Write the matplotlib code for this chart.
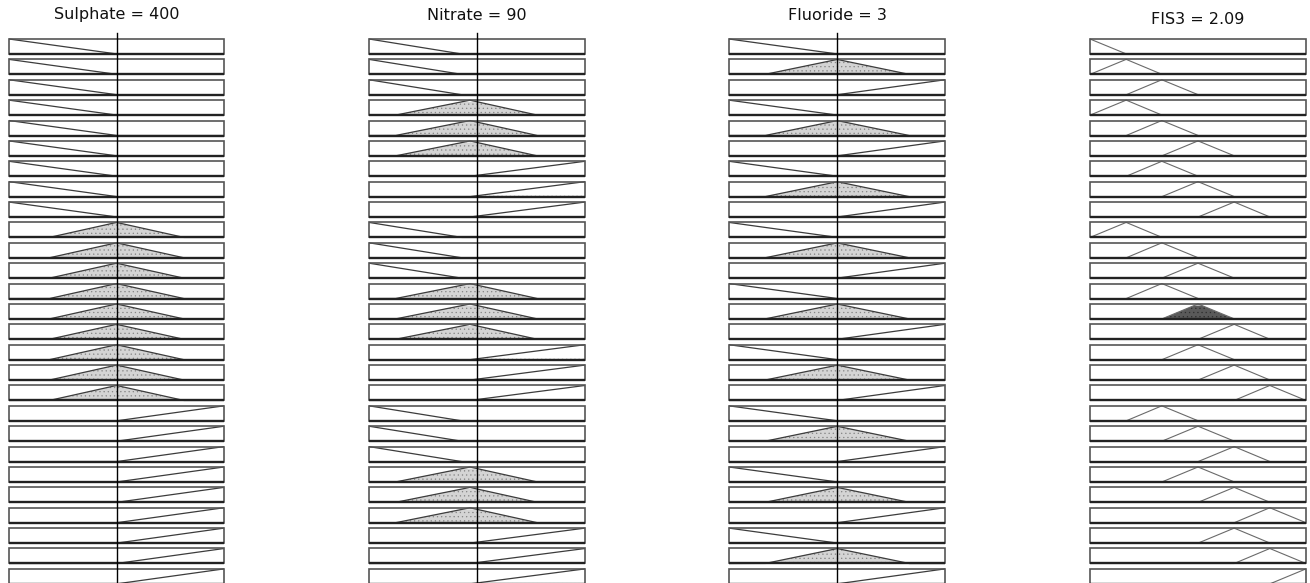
import numpy as np
import matplotlib.pyplot as plt
from matplotlib.patches import Rectangle

plt.rcParams["hatch.linewidth"] = 0.4
plt.rcParams["font.family"] = ["DejaVu Sans"]

# crisp inputs and the defuzzified output
sulphate_value = 400
nitrate_value = 90
fluoride_value = 3
fis3_value = 2.09

sulphate_range = [0, 800]
nitrate_range = [0, 180]
fluoride_range = [0, 6]
fis3_range = [0, 4]

# triangular membership functions [a, b, c]
sulphate_mfs = [[-400, 0, 400], [150, 400, 650], [400, 800, 1200]]
nitrate_mfs = [[-77, 0, 77], [22, 84, 140], [84, 180, 276]]
fluoride_mfs = [[-3, 0, 3], [1, 3, 5], [3, 6, 9]]
fis3_mfs = [[-0.67, 0, 0.67], [0, 0.67, 1.33], [0.67, 1.33, 2.0],
            [1.33, 2.0, 2.67], [2.0, 2.67, 3.33], [2.67, 3.33, 4.0],
            [3.33, 4.0, 4.67]]

# rule base (1-based MF index per rule)
rule_sulphate = [1, 1, 1, 1, 1, 1, 1, 1, 1,
                 2, 2, 2, 2, 2, 2, 2, 2, 2,
                 3, 3, 3, 3, 3, 3, 3, 3, 3]
rule_nitrate = [1, 1, 1, 2, 2, 2, 3, 3, 3,
                1, 1, 1, 2, 2, 2, 3, 3, 3,
                1, 1, 1, 2, 2, 2, 3, 3, 3]
rule_fluoride = [1, 2, 3, 1, 2, 3, 1, 2, 3,
                 1, 2, 3, 1, 2, 3, 1, 2, 3,
                 1, 2, 3, 1, 2, 3, 1, 2, 3]
rule_fis3 = [1, 2, 3, 2, 3, 4, 3, 4, 5,
             2, 3, 4, 3, 4, 5, 4, 5, 6,
             3, 4, 5, 4, 5, 6, 5, 6, 7]


def trimf(x, p):
    a, b, c = p
    x = np.asarray(x, dtype=float)
    up = (x - a) / (b - a)
    down = (c - x) / (c - b)
    return np.clip(np.minimum(up, down), 0, 1)


W, H = 1310, 583
fig = plt.figure(figsize=(W / 100, H / 100), dpi=100)

n_rules = len(rule_fis3)
pitch = 20.38       # px between rows
box_h = 15 / pitch  # box height in row units
top_px = 39
y_top = -0.4

# pixel extents of each column
col_x = [(9, 224), (369, 585), (729, 945), (1090, 1306)]


def make_axes(x0, x1, xlim):
    top = top_px + y_top * pitch
    height = (n_rules - y_top) * pitch
    ax = fig.add_axes([x0 / W, (H - top - height) / H, (x1 - x0) / W, height / H])
    ax.set_xlim(xlim)
    ax.set_ylim(n_rules, y_top)
    ax.axis("off")
    return ax


def draw_box(ax, r, xlim):
    ax.add_patch(Rectangle((xlim[0], r), xlim[1] - xlim[0], box_h, fill=False,
                           edgecolor="#555555", lw=1.2, clip_on=False, zorder=4))
    ax.plot(xlim, [r + box_h, r + box_h], color="#222222", lw=1.7,
            clip_on=False, zorder=5, solid_capstyle="butt")


inputs = [
    ("Sulphate", sulphate_value, sulphate_range, sulphate_mfs, rule_sulphate),
    ("Nitrate", nitrate_value, nitrate_range, nitrate_mfs, rule_nitrate),
    ("Fluoride", fluoride_value, fluoride_range, fluoride_mfs, rule_fluoride),
]

# firing strength of every rule (AND = min)
fire = np.ones(n_rules)
for name, val, rng, mfs, rule in inputs:
    for r in range(n_rules):
        fire[r] = min(fire[r], float(trimf(val, mfs[rule[r] - 1])))

for (name, val, rng, mfs, rule), (x0, x1) in zip(inputs, col_x[:3]):
    ax = make_axes(x0, x1, rng)
    xs = np.linspace(rng[0], rng[1], 801)
    for r in range(n_rules):
        p = mfs[rule[r] - 1]
        mu = trimf(xs, p)
        deg = float(trimf(val, p))
        if deg > 0:
            clipped = np.minimum(mu, deg)
            ax.fill_between(xs, r + box_h, r + box_h * (1 - clipped),
                            where=clipped > 0, facecolor="#d4d4d4", hatch="....",
                            edgecolor="#858585", lw=0, zorder=2)
        ax.plot(xs, r + box_h * (1 - mu), color="#3c3c3c", lw=0.9, zorder=3)
        draw_box(ax, r, rng)
    ax.plot([val, val], [-0.3, n_rules], color="black", lw=1.0,
            clip_on=False, zorder=6)
    fig.text(((x0 + x1) / 2) / W, 1 - 15 / H, f"{name} = {val:g}",
             ha="center", va="center", fontsize=11.5, color="#111111")

# output column
x0, x1 = col_x[3]
ax = make_axes(x0, x1, fis3_range)
xs = np.linspace(fis3_range[0], fis3_range[1], 801)
for r in range(n_rules):
    mu = trimf(xs, fis3_mfs[rule_fis3[r] - 1])
    if fire[r] > 0:
        clipped = np.minimum(mu, fire[r])
        ax.fill_between(xs, r + box_h, r + box_h * (1 - clipped),
                        where=clipped > 0, facecolor="#5a5a5a", hatch="....",
                        edgecolor="#2e2e2e", lw=0, zorder=2)
    ax.plot(xs, r + box_h * (1 - mu), color="#6a6a6a", lw=0.8, zorder=3)
    draw_box(ax, r, fis3_range)
fig.text(((x0 + x1) / 2) / W, 1 - 19 / H, f"FIS3 = {fis3_value:.2f}",
         ha="center", va="center", fontsize=11.5, color="#111111")

fig.savefig("out.png", dpi=100, facecolor="white")
